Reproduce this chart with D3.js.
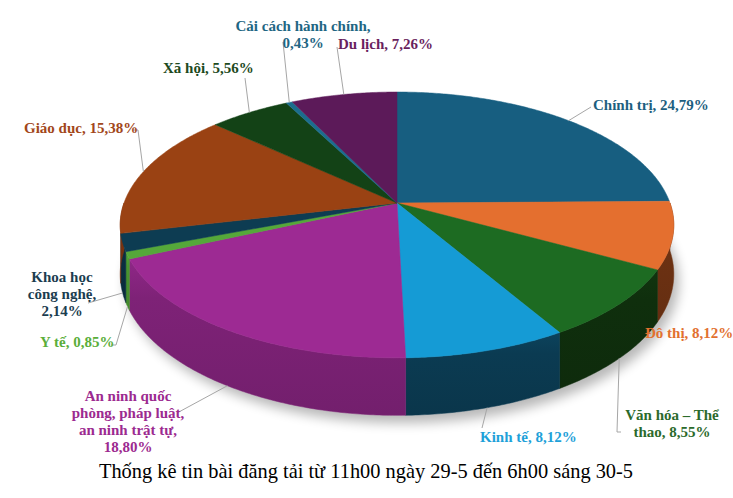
<!DOCTYPE html>
<html>
<head>
<meta charset="utf-8">
<script src="https://cdn.jsdelivr.net/npm/d3@7"></script>
<style>
  body { margin: 0; background: #fff; }
  svg { display: block; }
  .lbl { font-family: "Liberation Serif", "Times New Roman", serif; font-weight: bold; font-size: 15px; }
  .cap { font-family: "Liberation Serif", "Times New Roman", serif; font-size: 20.4px; fill: #000; }
</style>
</head>
<body>
<svg id="chart"></svg>
<script>
// data
const categories = ["Chính trị", "Đô thị", "Văn hóa – Thể thao", "Kinh tế", "An ninh quốc phòng, pháp luật, an ninh trật tự",
  "Y tế", "Khoa học công nghệ", "Giáo dục", "Xã hội", "Cải cách hành chính", "Du lịch"]
const values = [24.79, 8.12, 8.55, 8.12, 18.80, 0.85, 2.14, 15.38, 5.56, 0.43, 7.26]
const labelLines = [
  ["Chính trị, 24,79%"],
  ["Đô thị, 8,12%"],
  ["Văn hóa – Thể", "thao, 8,55%"],
  ["Kinh tế, 8,12%"],
  ["An ninh quốc", "phòng, pháp luật,", "an ninh trật tự,", "18,80%"],
  ["Y tế, 0,85%"],
  ["Khoa học", "công nghệ,", "2,14%"],
  ["Giáo dục, 15,38%"],
  ["Xã hội, 5,56%"],
  ["Cải cách hành chính,", "0,43%"],
  ["Du lịch, 7,26%"]
]
const caption = "Thống kê tin bài đăng tải từ 11h00 ngày 29-5 đến 6h00 sáng 30-5"

// styles
const topColors = ["#175e80", "#e46f2f", "#1d6b22", "#159bd5", "#9d2a93", "#55a83a", "#0d3c52", "#9a4213", "#134216", "#1b6d8e", "#5c1a59"]
const sideColors = ["#0f4560", "#6e3213", "#0f2f0d", "#0b3b52", "#7e2277", "#4a9631", "#0a2f41", "#7a3410", "#0d300f", "#134f68", "#43123f"]
const textColors = ["#1d5f80", "#e2712f", "#2b6a2b", "#1ea1d9", "#9c2a90", "#5aae3a", "#1b3d50", "#a2471b", "#1d4a1d", "#1e6683", "#6a1f5e"]

// label layout: [x, first baseline, anchor, leader end / elbow points]
const labelLayout = [
  [593, 110, "start", [[591, 107]]],
  [645, 338, "start", null],
  [672, 420, "middle", [[617, 432], [621, 432]]],
  [480, 442, "start", [[482, 428]]],
  [128, 401, "middle", [[177, 413]]],
  [40, 347, "start", [[116, 345], [111, 345]]],
  [62, 282, "middle", [[88, 303]]],
  [24, 133, "start", [[138, 130], [133, 130]]],
  [163, 73, "start", [[245, 78]]],
  [303, 31, "middle", [[283, 42]]],
  [338, 49, "start", [[337, 47]]]
]

const W = 733, H = 498
const cx = 397, cy = 203, rx = 273, ry = 129.3, k = 0.165, depth = 48

const svg = d3.select("#chart").attr("width", W).attr("height", H)

const pie = d3.pie().sort(null).value(d => d)
const arcs = pie(values)

function project(a, h) {
  const u = Math.sin(a), v = -Math.cos(a)
  const s = 1 / (1 - k * v)
  return [cx + rx * u * s, cy + (ry * v + h) * s]
}

function arcPoints(a0, a1, h) {
  const n = Math.max(2, Math.ceil((a1 - a0) / 0.01))
  return d3.range(n + 1).map(i => project(a0 + (a1 - a0) * i / n, h))
}

const line = d3.line()

const defs = svg.append("defs")
defs.append("filter").attr("id", "blur").attr("x", "-20%").attr("y", "-20%").attr("width", "140%").attr("height", "140%")
  .append("feGaussianBlur").attr("stdDeviation", 6)

// shadow under the pie
svg.append("path")
  .attr("d", line(arcPoints(0, 2 * Math.PI, depth + 4).map(p => [p[0] + 5, p[1] + 3])) + "Z")
  .attr("fill", "#000")
  .attr("opacity", 0.28)
  .attr("filter", "url(#blur)")

// side walls, visible front part only
const front0 = Math.PI / 2, front1 = 3 * Math.PI / 2
arcs.forEach((d, i) => {
  const a0 = Math.max(d.startAngle, front0), a1 = Math.min(d.endAngle, front1)
  if (a1 <= a0) return
  const topPts = arcPoints(a0, a1, 0)
  const botPts = arcPoints(a0, a1, depth).reverse()
  const g = defs.append("linearGradient").attr("id", "side" + i)
    .attr("x1", 0).attr("y1", 0).attr("x2", 0).attr("y2", 1)
  g.append("stop").attr("offset", 0).attr("stop-color", d3.color(sideColors[i]).brighter(0.35))
  g.append("stop").attr("offset", 0.25).attr("stop-color", sideColors[i])
  g.append("stop").attr("offset", 1).attr("stop-color", d3.color(sideColors[i]).darker(0.25))
  svg.append("path")
    .attr("d", line(topPts.concat(botPts)) + "Z")
    .attr("fill", `url(#side${i})`)
    .attr("stroke", sideColors[i])
    .attr("stroke-width", 0.5)
})

// top faces
arcs.forEach((d, i) => {
  const pts = [[cx, cy]].concat(arcPoints(d.startAngle, d.endAngle, 0))
  svg.append("path")
    .attr("d", line(pts) + "Z")
    .attr("fill", topColors[i])
    .attr("stroke", topColors[i])
    .attr("stroke-width", 0.5)
})

// leader lines
arcs.forEach((d, i) => {
  const lay = labelLayout[i]
  if (!lay[3]) return
  const mid = (d.startAngle + d.endAngle) / 2
  const frontSide = mid > front0 && mid < front1
  const start = project(mid, frontSide ? depth : 0)
  svg.append("path")
    .attr("d", line([start].concat(lay[3])))
    .attr("fill", "none")
    .attr("stroke", "#a6a6a6")
    .attr("stroke-width", 1)
})

// labels
arcs.forEach((d, i) => {
  const lay = labelLayout[i]
  const t = svg.append("text")
    .attr("class", "lbl")
    .attr("fill", textColors[i])
    .attr("text-anchor", lay[2])
  labelLines[i].forEach((s, j) => {
    t.append("tspan").attr("x", lay[0]).attr("y", lay[1] + j * 17).text(s)
  })
})

svg.append("text")
  .attr("class", "cap")
  .attr("x", 366)
  .attr("y", 478)
  .attr("text-anchor", "middle")
  .text(caption)
</script>
</body>
</html>
